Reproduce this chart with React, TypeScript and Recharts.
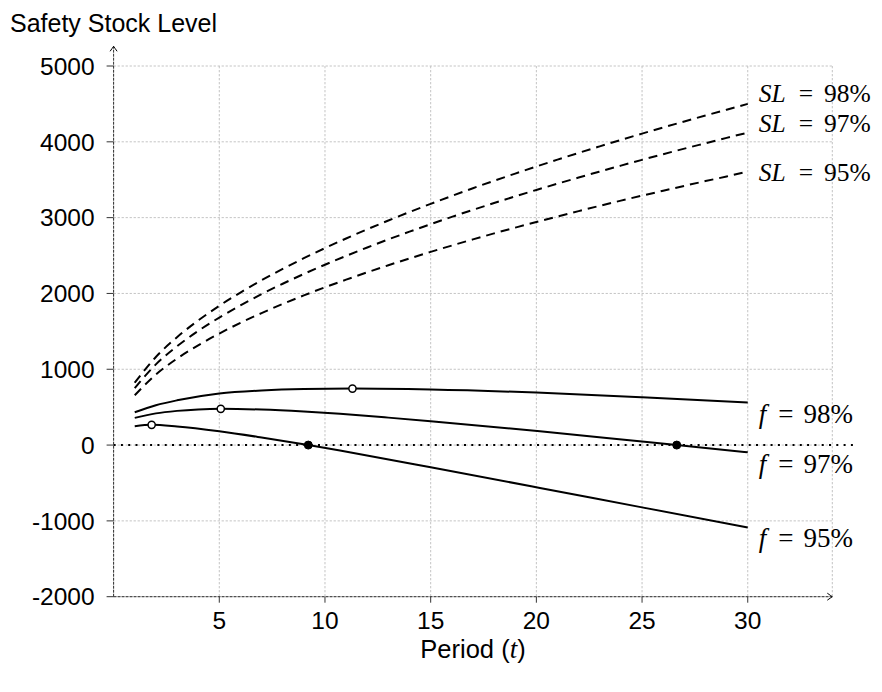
import React from 'react';
import { ComposedChart, Line, Scatter, XAxis, YAxis, CartesianGrid, ReferenceLine } from 'recharts';

// Period axis values for the service-level (SL) curves
const periods = [1, 2, 3, 4, 5, 6, 7, 8, 9, 10, 11, 12, 13, 14, 15, 16, 17, 18, 19, 20, 21, 22, 23, 24, 25, 26, 27, 28, 29, 30];
const sl98 = [822, 1162, 1423, 1643, 1837, 2012, 2174, 2324, 2465, 2598, 2725, 2846, 2962, 3074, 3182, 3286, 3388, 3486, 3581, 3674, 3765, 3854, 3940, 4025, 4108, 4189, 4269, 4347, 4424, 4500];
const sl97 = [752, 1064, 1303, 1505, 1682, 1843, 1991, 2128, 2257, 2379, 2495, 2606, 2713, 2815, 2914, 3010, 3102, 3192, 3280, 3365, 3448, 3529, 3608, 3686, 3762, 3837, 3910, 3981, 4052, 4121];
const sl95 = [658, 931, 1140, 1316, 1471, 1612, 1741, 1861, 1974, 2081, 2182, 2279, 2372, 2462, 2548, 2632, 2713, 2792, 2868, 2943, 3015, 3086, 3156, 3224, 3290, 3355, 3419, 3482, 3543, 3610];

// Fill-rate (f) curves
const f98Periods = [1, 2, 3, 5, 7, 9, 11.3, 15, 20, 25, 30];
const f98Values = [433, 525, 590, 680, 720, 739, 745, 733, 692, 631, 561];
const f97Periods = [1, 2, 3, 4, 5.07, 7, 9, 10.71, 13, 15, 20.17, 25, 26.64, 30];
const f97Values = [359, 418, 451, 470, 478, 468, 442, 412, 362, 314, 182, 46, 0, -95];
const f95Periods = [1, 1.8, 3, 5, 7, 9.21, 10.71, 15, 20.17, 25, 30];
const f95Values = [248, 267, 245, 182, 100, 0, -73, -293, -565, -822, -1086];

// Marked points
const maxPeriods = [1.8, 5.07, 11.3];
const maxValues = [267, 478, 745];
const zeroPeriods = [9.21, 26.64];
const zeroValues = [0, 0];

// Axes
const xTicks = [5, 10, 15, 20, 25, 30];
const yTicks = [-2000, -1000, 0, 1000, 2000, 3000, 4000, 5000];

const zip = (ts: number[], vs: number[]) => ts.map((t, i) => ({ t, v: vs[i] }));

const sl98Data = zip(periods, sl98);
const sl97Data = zip(periods, sl97);
const sl95Data = zip(periods, sl95);
const f98Data = zip(f98Periods, f98Values);
const f97Data = zip(f97Periods, f97Values);
const f95Data = zip(f95Periods, f95Values);
const maxData = zip(maxPeriods, maxValues);
const zeroData = zip(zeroPeriods, zeroValues);

const SERIF = "'Liberation Serif', 'Times New Roman', serif";
const SANS = "'Liberation Sans', Arial, sans-serif";

const mathLabel = (name: string, pct: string, dy: number, lastIndex: number, size: number, gap1: number, gap2: number) => (props: any) => {
  if (props.index !== lastIndex) return <g />;
  return (
    <text x={props.x + 11} y={props.y + dy} fontFamily={SERIF} fontSize={size} fill="#000">
      <tspan fontStyle="italic">{name}</tspan>
      <tspan dx={gap1}>=</tspan>
      <tspan dx={gap2}>{pct}</tspan>
    </text>
  );
};

const arrowUp = (p: any) => (
  <g>
    <line x1={p.x1} y1={p.y1} x2={p.x2} y2={p.y2} stroke="#333" strokeWidth={1} strokeDasharray="3 1" />
    <path d={`M ${p.x2 - 3.5} ${p.y2 + 5} Q ${p.x2 - 1} ${p.y2 + 1.5} ${p.x2} ${p.y2} Q ${p.x2 + 1} ${p.y2 + 1.5} ${p.x2 + 3.5} ${p.y2 + 5}`} fill="none" stroke="#000" strokeWidth={1} />
  </g>
);

const arrowRight = (p: any) => (
  <g>
    <line x1={p.x1} y1={p.y1} x2={p.x2} y2={p.y2} stroke="#333" strokeWidth={1} strokeDasharray="3 1" />
    <path d={`M ${p.x2 - 5} ${p.y2 - 3.5} Q ${p.x2 - 1.5} ${p.y2 - 1} ${p.x2} ${p.y2} Q ${p.x2 - 1.5} ${p.y2 + 1} ${p.x2 - 5} ${p.y2 + 3.5}`} fill="none" stroke="#000" strokeWidth={1} />
  </g>
);

const openDot = (p: any) => <circle cx={p.cx} cy={p.cy} r={3.6} fill="#fff" stroke="#000" strokeWidth={1.5} />;
const filledDot = (p: any) => <circle cx={p.cx} cy={p.cy} r={4} fill="#000" stroke="#000" strokeWidth={1} />;

export default function App() {
  return (
    <div style={{ position: 'absolute', left: 0, top: 0, width: 882, height: 692, background: '#fff', fontFamily: SANS }}>
      <div style={{ position: 'absolute', left: 10, top: 11, fontSize: 25, lineHeight: '25px', color: '#000', whiteSpace: 'nowrap' }}>
        Safety Stock Level
      </div>
      <div style={{ position: 'absolute', left: 373, width: 200, top: 637, fontSize: 25.5, lineHeight: '25px', color: '#000', textAlign: 'center', whiteSpace: 'nowrap' }}>
        Period (<span style={{ fontFamily: SERIF, fontStyle: 'italic', fontSize: 27 }}>t</span>)
      </div>
      <ComposedChart width={882} height={692} margin={{ top: 66, right: 49.7, bottom: 55.3, left: 0 }}>
        <CartesianGrid stroke="#c4c4c4" strokeDasharray="2.3 1.7" strokeWidth={1} />
        <XAxis
          type="number"
          dataKey="t"
          domain={[0, 34]}
          ticks={xTicks}
          allowDataOverflow
          axisLine={false}
          tickLine={{ stroke: '#333' }}
          tickSize={6}
          tickMargin={9}
          height={40}
          tick={{ fontFamily: SANS, fontSize: 24.5, fill: '#000' }}
        />
        <YAxis
          type="number"
          domain={[-2000, 5000]}
          ticks={yTicks}
          allowDataOverflow
          axisLine={false}
          tickLine={{ stroke: '#333' }}
          tickSize={7}
          tickMargin={12}
          width={113.6}
          tick={{ fontFamily: SANS, fontSize: 24.5, fill: '#000' }}
        />
        <ReferenceLine segment={[{ x: 0, y: 0 }, { x: 35, y: 0 }]} ifOverflow="visible" stroke="#000" strokeWidth={2} strokeDasharray="2 5.3" />
        <ReferenceLine segment={[{ x: 0, y: -2000 }, { x: 0, y: 5260 }]} ifOverflow="visible" shape={arrowUp} />
        <ReferenceLine segment={[{ x: 0, y: -2000 }, { x: 34, y: -2000 }]} ifOverflow="visible" shape={arrowRight} />

        <Line data={sl98Data} dataKey="v" type="monotone" stroke="#000" strokeWidth={2} strokeDasharray="9 6" dot={false} isAnimationActive={false} label={mathLabel('SL', '98%', -2, sl98Data.length - 1, 25.5, 13, 11)} />
        <Line data={sl97Data} dataKey="v" type="monotone" stroke="#000" strokeWidth={2} strokeDasharray="9 6" dot={false} isAnimationActive={false} label={mathLabel('SL', '97%', -1, sl97Data.length - 1, 25.5, 13, 11)} />
        <Line data={sl95Data} dataKey="v" type="monotone" stroke="#000" strokeWidth={2} strokeDasharray="9 6" dot={false} isAnimationActive={false} label={mathLabel('SL', '95%', 10, sl95Data.length - 1, 25.5, 13, 11)} />

        <Line data={f98Data} dataKey="v" type="monotone" stroke="#000" strokeWidth={2} dot={false} isAnimationActive={false} label={mathLabel('f', '98%', 20.5, f98Data.length - 1, 27, 12, 10)} />
        <Line data={f97Data} dataKey="v" type="monotone" stroke="#000" strokeWidth={2} dot={false} isAnimationActive={false} label={mathLabel('f', '97%', 21, f97Data.length - 1, 27, 12, 10)} />
        <Line data={f95Data} dataKey="v" type="monotone" stroke="#000" strokeWidth={2} dot={false} isAnimationActive={false} label={mathLabel('f', '95%', 20, f95Data.length - 1, 27, 12, 10)} />

        <Scatter data={maxData} dataKey="v" shape={openDot} isAnimationActive={false} />
        <Scatter data={zeroData} dataKey="v" shape={filledDot} isAnimationActive={false} />
      </ComposedChart>
    </div>
  );
}
